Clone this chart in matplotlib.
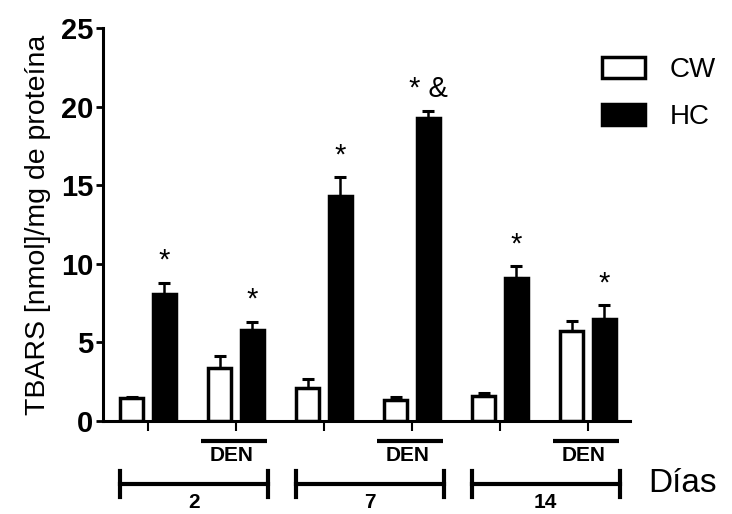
import numpy as np
import matplotlib
matplotlib.use('Agg')
import matplotlib.pyplot as plt
import matplotlib.transforms as mtransforms
from matplotlib.patches import Patch

plt.rcParams['font.family'] = ['Liberation Sans', 'DejaVu Sans']

# datos
days = ['2', '7', '14']
treatment = ['', 'DEN', '', 'DEN', '', 'DEN']
cw_mean = [1.45, 3.35, 2.1, 1.35, 1.6, 5.75]
cw_err = [0.1, 0.8, 0.55, 0.2, 0.2, 0.6]
hc_mean = [8.1, 5.8, 14.3, 19.3, 9.1, 6.5]
hc_err = [0.7, 0.5, 1.2, 0.4, 0.75, 0.85]
hc_marks = ['*', '*', '*', '* &', '*', '*']
yticks = [0, 5, 10, 15, 20, 25]

fig = plt.figure(figsize=(7.32, 5.14), dpi=100)
ax = fig.add_axes([103 / 732, 1 - 421 / 514, 527 / 732, 393 / 514])

x = np.arange(len(cw_mean))
w = 0.26
off = 0.185
ekw = dict(elinewidth=1.8, capsize=4.5, capthick=2.2, ecolor='black')
ax.bar(x - off, cw_mean, w, color='white', edgecolor='black', linewidth=2.5,
       yerr=[np.zeros(len(cw_err)), cw_err], error_kw=ekw, zorder=2)
ax.bar(x + off, hc_mean, w, color='black', edgecolor='black', linewidth=2.5,
       yerr=[np.zeros(len(hc_err)), hc_err], error_kw=ekw, zorder=2)

# asteriscos
for i, m in enumerate(hc_marks):
    ax.text(x[i] + off, hc_mean[i] + hc_err[i] + 1.4, m, ha='center', va='center',
            fontsize=21)

ax.set_xlim(-0.511, 5.477)
ax.set_ylim(0, 25)
ax.set_yticks(yticks)
ax.set_xticks(x)
ax.set_xticklabels([])
ax.spines['top'].set_visible(False)
ax.spines['right'].set_visible(False)
ax.spines['left'].set_linewidth(2.2)
ax.spines['bottom'].set_linewidth(2.2)
ax.tick_params(axis='y', direction='out', length=5, width=2, labelsize=21, pad=2)
ax.tick_params(axis='x', direction='out', length=7, width=1.5)
for lab in ax.get_yticklabels():
    lab.set_fontweight('bold')
ax.set_ylabel('TBARS [nmol]/mg de proteína', fontsize=20.5, labelpad=7)

# DEN y dias bajo el eje
trans = mtransforms.blended_transform_factory(ax.transData, ax.transAxes)
trans_fig = mtransforms.blended_transform_factory(ax.transData, fig.transFigure)
for i, t in enumerate(treatment):
    if t:
        ax.plot([x[i] - 0.4, x[i] + 0.35], [-0.051, -0.051], color='black', lw=3,
                transform=trans, clip_on=False, solid_capstyle='butt')
        ax.text(x[i] - 0.05, -0.089, t, transform=trans, ha='center', va='center',
                fontsize=15, fontweight='bold')

for k, d in enumerate(days):
    x0 = x[2 * k] - 0.32
    x1 = x[2 * k + 1] + 0.36
    ax.plot([x0, x1], [-0.160, -0.160], color='black', lw=3, transform=trans,
            clip_on=False)
    for xx in (x0, x1):
        ax.plot([xx, xx], [-0.127, -0.193], color='black', lw=3, transform=trans,
                clip_on=False)
    ax.text((x0 + x1) / 2, 0.004, d, transform=trans_fig, ha='center', va='bottom',
            fontsize=15, fontweight='bold')

fig.text(648 / 732, 1 - 484 / 514, 'Días', ha='left', va='center', fontsize=24)

handles = [Patch(facecolor='white', edgecolor='black', linewidth=2.5, label='CW'),
           Patch(facecolor='black', edgecolor='black', linewidth=2.5, label='HC')]
fig.legend(handles=handles, loc='upper left', bbox_to_anchor=(602 / 732, 1 - 57 / 514),
           frameon=False, fontsize=20, handlelength=1.55, handleheight=0.8,
           handletextpad=0.9, labelspacing=0.75, borderpad=0, borderaxespad=0)

fig.savefig('out.png', dpi=100)
